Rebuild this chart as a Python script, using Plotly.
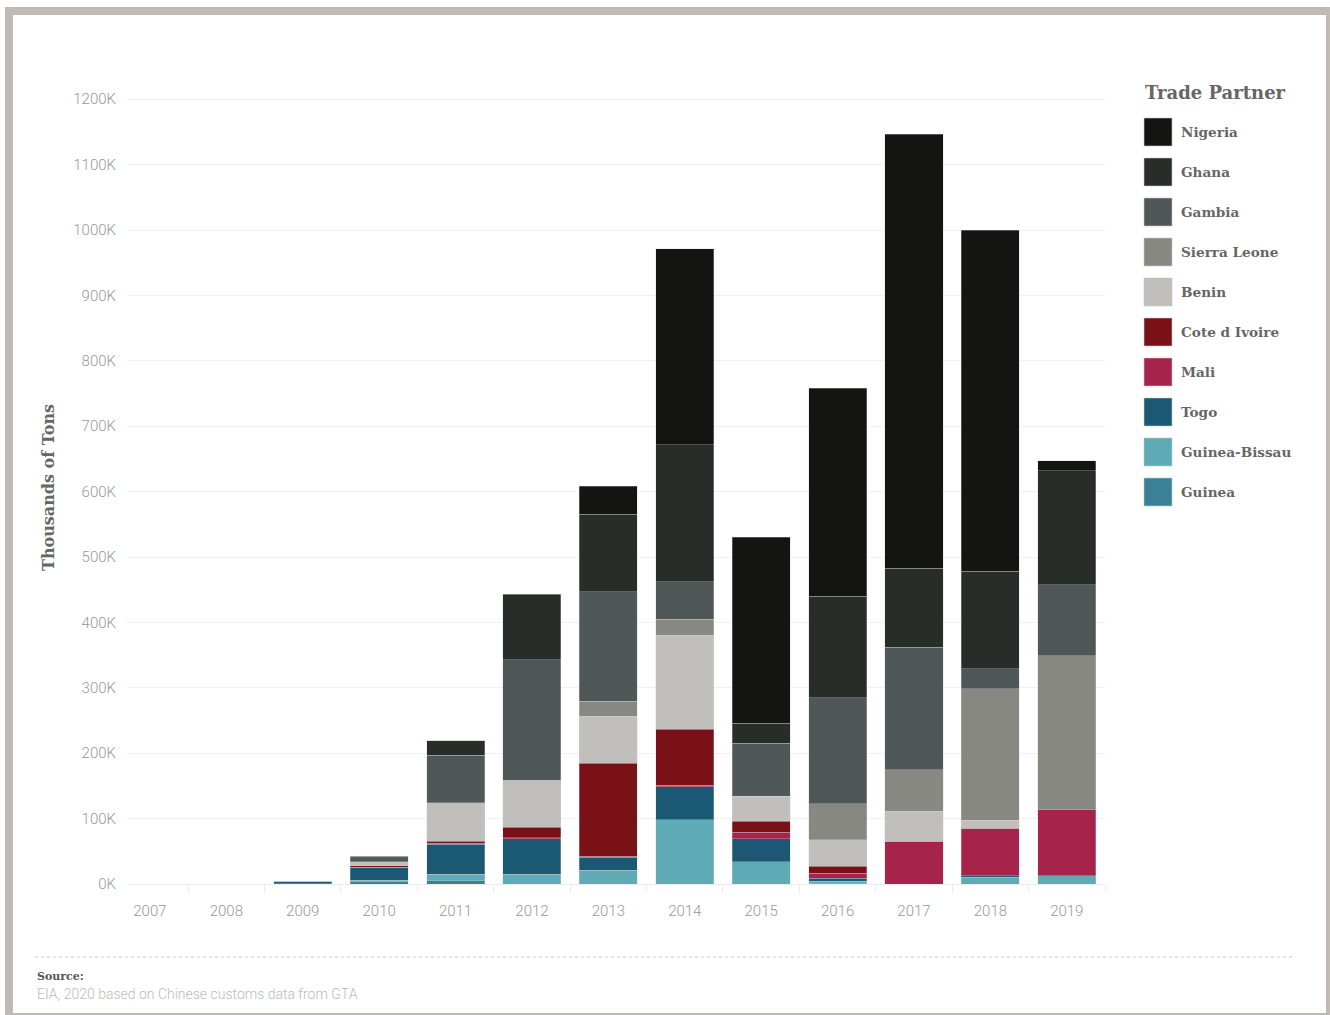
import plotly.graph_objects as go

# ---- data ----
years = ["2007", "2008", "2009", "2010", "2011", "2012", "2013",
         "2014", "2015", "2016", "2017", "2018", "2019"]

guinea        = [0, 0, 0.5, 4, 5, 0, 0, 0, 0, 1, 0, 0, 0]
guinea_bissau = [0, 0, 0, 2, 10, 15, 21, 98, 34, 3, 0, 10, 12.7]
togo          = [0, 0, 3, 19, 46, 54, 20, 51, 35, 4.6, 0, 2.5, 0]
mali          = [0, 0, 0, 1, 1, 2, 1.5, 2, 10, 8, 65, 73, 100.5]
cote_divoire  = [0, 0, 0, 2, 3, 16, 142, 86, 17, 10.7, 0, 0, 0]
benin         = [0, 0, 0, 6, 59, 71, 72, 143, 38, 40, 46, 12, 0]
sierra_leone  = [0, 0, 0, 0, 0, 1, 23, 25, 0, 55.5, 64, 201, 235.5]
gambia        = [0, 0, 0.6, 6.5, 73, 184, 167, 57.5, 81, 162, 187, 31, 108.5]
ghana         = [0, 0, 0, 2, 22, 99, 119, 209, 31, 155.5, 121, 149, 175]
nigeria       = [0, 0, 0, 0, 0, 1, 43, 300, 284, 318, 663.6, 521, 15]

# stacking order bottom -> top
series = [
    ("Guinea", guinea, "#3a8096"),
    ("Guinea-Bissau", guinea_bissau, "#5eabb5"),
    ("Togo", togo, "#1b5874"),
    ("Mali", mali, "#a6234c"),
    ("Cote d Ivoire", cote_divoire, "#7a1117"),
    ("Benin", benin, "#c0bfbb"),
    ("Sierra Leone", sierra_leone, "#888883"),
    ("Gambia", gambia, "#4f5758"),
    ("Ghana", ghana, "#292d2a"),
    ("Nigeria", nigeria, "#141513"),
]

y_ticks = [0, 100, 200, 300, 400, 500, 600, 700, 800, 900, 1000, 1100, 1200]
y_tick_labels = [f"{v}K" for v in y_ticks]

# ---- layout geometry (page pixels; body margin removed via post_script) ----
OX, OY = 0, 0
W, H = 1330 - OX, 1015 - OY
L, R, T, B = 127 - OX, 225, 80 - OY, 131
PW, PH = W - L - R, H - T - B


def px2x(px):
    return (px - OX - L) / PW


def px2y(py):
    return (H - B - (py - OY)) / PH


SERIF = "DejaVu Serif"
SANS = "Roboto"

fig = go.Figure()
for name, vals, color in series:
    fig.add_trace(go.Bar(
        x=years, y=vals, name=name,
        marker=dict(color=color, line=dict(color="rgba(210,210,210,0.55)", width=0.6)),
        showlegend=False,
    ))

fig.update_layout(
    width=W, height=H,
    margin=dict(l=L, r=R, t=T, b=B),
    barmode="stack",
    bargap=0.24,
    plot_bgcolor="white",
    paper_bgcolor="white",
    font=dict(family=SANS, color="#999999"),
    xaxis=dict(
        type="category",
        range=[-0.3, 12.5],
        showgrid=False,
        showline=True, linecolor="#ececec", linewidth=1,
        ticks="outside", tickson="boundaries", ticklen=8, tickcolor="#ececec",
        tickfont=dict(family=SANS, size=15, color="#999999", weight=300),
        ticklabelstandoff=13,
    ),
    yaxis=dict(
        range=[0, PH / 0.654],
        tickvals=y_ticks, ticktext=y_tick_labels,
        showgrid=True, gridcolor="#f1f1f1", gridwidth=1,
        zeroline=False,
        tickfont=dict(family=SANS, size=15, color="#999999", weight=300),
        ticklabelstandoff=10,
    ),
)

annotations = []
shapes = []

# y-axis title
annotations.append(dict(
    xref="paper", yref="paper", x=px2x(48), y=px2y(488),
    text="<b>Thousands of Tons</b>", textangle=-90, showarrow=False,
    font=dict(family=SERIF, size=16, color="#666666"),
    xanchor="center", yanchor="middle",
))

# legend (manual)
annotations.append(dict(
    xref="paper", yref="paper", x=px2x(1143), y=px2y(92),
    text="<b>Trade Partner</b>", showarrow=False,
    font=dict(family=SERIF, size=18, color="#666666"),
    xanchor="left", yanchor="middle",
))
for i, (name, vals, color) in enumerate(reversed(series)):
    cy = 132 + 40 * i
    shapes.append(dict(
        type="rect", xref="paper", yref="paper",
        x0=px2x(1144), x1=px2x(1172), y0=px2y(cy - 14), y1=px2y(cy + 14),
        fillcolor=color, line=dict(color="rgba(200,200,200,0.6)", width=1),
    ))
    annotations.append(dict(
        xref="paper", yref="paper", x=px2x(1179), y=px2y(cy),
        text=f"<b>{name}</b>", showarrow=False,
        font=dict(family=SERIF, size=13.6, color="#666666"),
        xanchor="left", yanchor="middle",
    ))

# footer
shapes.append(dict(
    type="line", xref="paper", yref="paper",
    x0=px2x(35), x1=px2x(1295), y0=px2y(957), y1=px2y(957),
    line=dict(color="#cccccc", width=1, dash="dot"),
))
annotations.append(dict(
    xref="paper", yref="paper", x=px2x(35), y=px2y(976),
    text="<b>Source:</b>", showarrow=False,
    font=dict(family=SERIF, size=11, color="#555555"),
    xanchor="left", yanchor="middle",
))
annotations.append(dict(
    xref="paper", yref="paper", x=px2x(35), y=px2y(994),
    text="EIA, 2020 based on Chinese customs data from GTA", showarrow=False,
    font=dict(family=SANS, size=14, color="#bbbbbb", weight=300),
    xanchor="left", yanchor="middle",
))

# page frame
frame = "#bfbab6"
for (x0, y0, x1, y1) in [(5, 7, 13, 1015), (5, 7, 1330, 15), (1326, 7, 1330, 1015), (5, 1013, 1330, 1015)]:
    shapes.append(dict(
        type="rect", xref="paper", yref="paper",
        x0=px2x(x0), x1=px2x(x1), y0=px2y(y0), y1=px2y(y1),
        fillcolor=frame, line=dict(width=0),
    ))

fig.update_layout(annotations=annotations, shapes=shapes)

fig.write_html(
    "out.html",
    config={"displayModeBar": False},
    post_script="document.body.style.margin='0px';document.body.style.overflow='hidden';",
)
